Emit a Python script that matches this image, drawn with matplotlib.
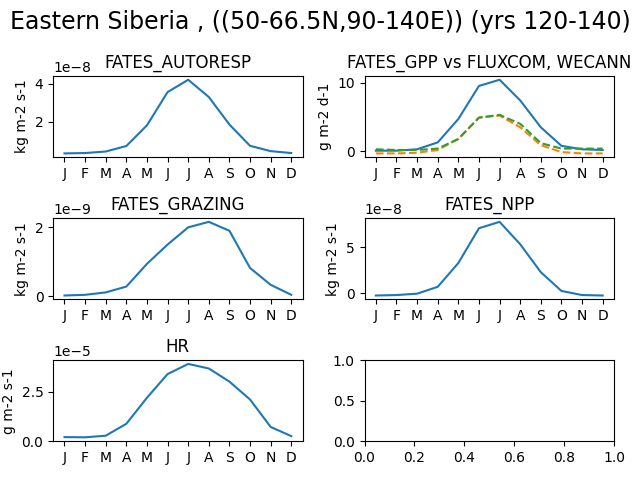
import numpy as np
import matplotlib
matplotlib.use("Agg")
import matplotlib.pyplot as plt

months = ["J", "F", "M", "A", "M", "J", "J", "A", "S", "O", "N", "D"]

autoresp = np.array([0.34, 0.36, 0.44, 0.73, 1.82, 3.57, 4.22, 3.31, 1.86, 0.74, 0.46, 0.36]) * 1e-8
gpp_fates = [0.1, 0.1, 0.3, 1.3, 4.7, 9.5, 10.4, 7.4, 3.5, 0.8, 0.3, 0.2]
gpp_fluxcom = [-0.3, -0.3, -0.2, 0.2, 1.8, 4.9, 5.2, 3.5, 0.9, -0.1, -0.3, -0.3]
gpp_wecann = [0.3, 0.2, 0.2, 0.4, 1.8, 4.9, 5.3, 4.0, 1.2, 0.4, 0.4, 0.4]
grazing = np.array([0.02, 0.04, 0.11, 0.28, 0.94, 1.5, 2.0, 2.16, 1.9, 0.82, 0.33, 0.04]) * 1e-9
npp = np.array([-0.25, -0.2, -0.05, 0.7, 3.3, 7.1, 7.8, 5.35, 2.3, 0.25, -0.2, -0.25]) * 1e-8
hr = np.array([0.21, 0.2, 0.28, 0.88, 2.19, 3.38, 3.89, 3.66, 3.0, 2.1, 0.72, 0.26]) * 1e-5

x = np.arange(12)

fig, axs = plt.subplots(3, 2, figsize=(6.4, 4.8), dpi=100)
fig.suptitle("Eastern Siberia , ((50-66.5N,90-140E)) (yrs 120-140)", fontsize=17)

ax = axs[0, 0]
ax.plot(x, autoresp)
ax.set_title("FATES_AUTORESP")
ax.set_ylabel("kg m-2 s-1")

ax = axs[0, 1]
ax.plot(x, gpp_fates)
ax.plot(x, gpp_fluxcom, linestyle="--")
ax.plot(x, gpp_wecann, linestyle="--")
ax.set_title("FATES_GPP vs FLUXCOM, WECANN")
ax.set_ylabel("g m-2 d-1")

ax = axs[1, 0]
ax.plot(x, grazing)
ax.set_title("FATES_GRAZING")
ax.set_ylabel("kg m-2 s-1")

ax = axs[1, 1]
ax.plot(x, npp)
ax.set_title("FATES_NPP")
ax.set_ylabel("kg m-2 s-1")

ax = axs[2, 0]
ax.plot(x, hr)
ax.set_title("HR")
ax.set_ylabel("g m-2 s-1")
ax.set_ylim(bottom=0)

for a in [axs[0, 0], axs[0, 1], axs[1, 0], axs[1, 1], axs[2, 0]]:
    a.set_xticks(x)
    a.set_xticklabels(months)

fig.tight_layout()
fig.savefig("out.png")
